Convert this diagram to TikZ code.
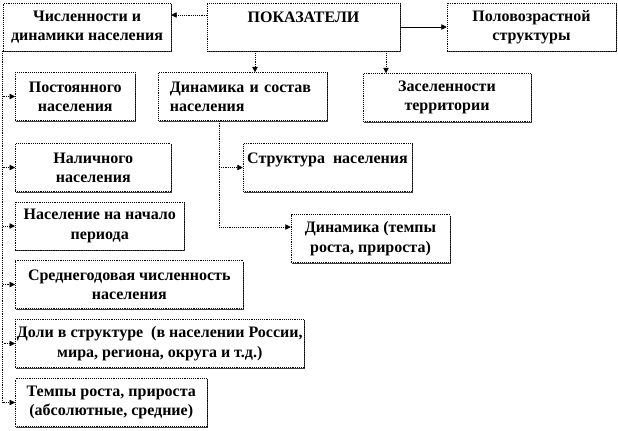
\documentclass[tikz,border=0pt]{standalone}
\usepackage{fontspec}
\setmainfont{Liberation Serif}[BoldFont={Liberation Serif Bold}]
\usetikzlibrary{arrows.meta,shadows}

\tikzset{
  box/.style={draw,densely dotted,fill=white,inner sep=0pt,
    minimum height=36pt,align=center,
    font=\bfseries\fontsize{12}{14.5}\selectfont,
    drop shadow={shadow xshift=0.9pt,shadow yshift=-0.9pt,
      fill=black!75,opacity=1}},
  tip/.style={-{Triangle[length=4pt,width=4pt]}},
  conn/.style={tip,densely dotted},
}

\begin{document}
\begin{tikzpicture}[x=0.75pt,y=-0.75pt]
  \useasboundingbox (0,0) rectangle (618,430);
  % top row
  \node[box,minimum width=126pt] (num) at (87,27) {Численности и\\динамики населения};
  \node[box,minimum width=144.75pt] (pok) at (303.5,27) {ПОКАЗАТЕЛИ\\\mbox{}};
  \node[box,minimum width=126.75pt] (pol) at (531.5,27) {Половозрастной\\структуры};
  % second row
  \node[box,minimum width=126.75pt,text width=109pt,align=left] (dyn) at (242.5,96.5)
    {Динамика и состав\\населения};
  \node[box,minimum width=126pt] (zas) at (447,97.5) {Заселенности\\территории};
  \node[box,minimum width=126.75pt] (str) at (327.5,167.5) {Структура\ \ населения\\\mbox{}};
  \node[box,minimum width=119.25pt] (dt) at (370.5,238.5) {Динамика (темпы\\роста, прироста)};
  % left column
  \foreach \n/\y/\w/\t in {
      post/96.5/90/{Постоянного\\населения},
      nal/167.5/117/{Наличного\\населения},
      nach/226/126.75/{Население на начало\\периода},
      sr/284.5/171/{Среднегодовая численность\\населения},
      dol/343.5/216.75/{Доли в структуре\ \ (в населении России,\\мира, региона, округа и т.д.)},
      tem/402.5/144/{Темпы роста, прироста\\(абсолютные, средние)}}{
    \node[box,anchor=west,minimum width=\w pt] (\n) at (15,\y) {\t};
  }
  % connectors
  \draw[conn] (pok.west |- 0,15) -- (num.east |- 0,15);
  \draw[tip] (pok.east) -- (pol.west);
  \draw[conn] (pok.south -| 255,0) -- (dyn.north -| 255,0);
  \draw[conn] (pok.south -| 386,0) -- (zas.north -| 386,0);
  \foreach \n in {post,nal,nach,sr,dol,tem}
    \draw[conn] (num.south west) |- (\n.west);
  \draw[conn] (dyn.south -| 219,0) |- (str.west);
  \draw[conn] (dyn.south -| 219,0) |- (dt.west |- 0,227);
\end{tikzpicture}
\end{document}
